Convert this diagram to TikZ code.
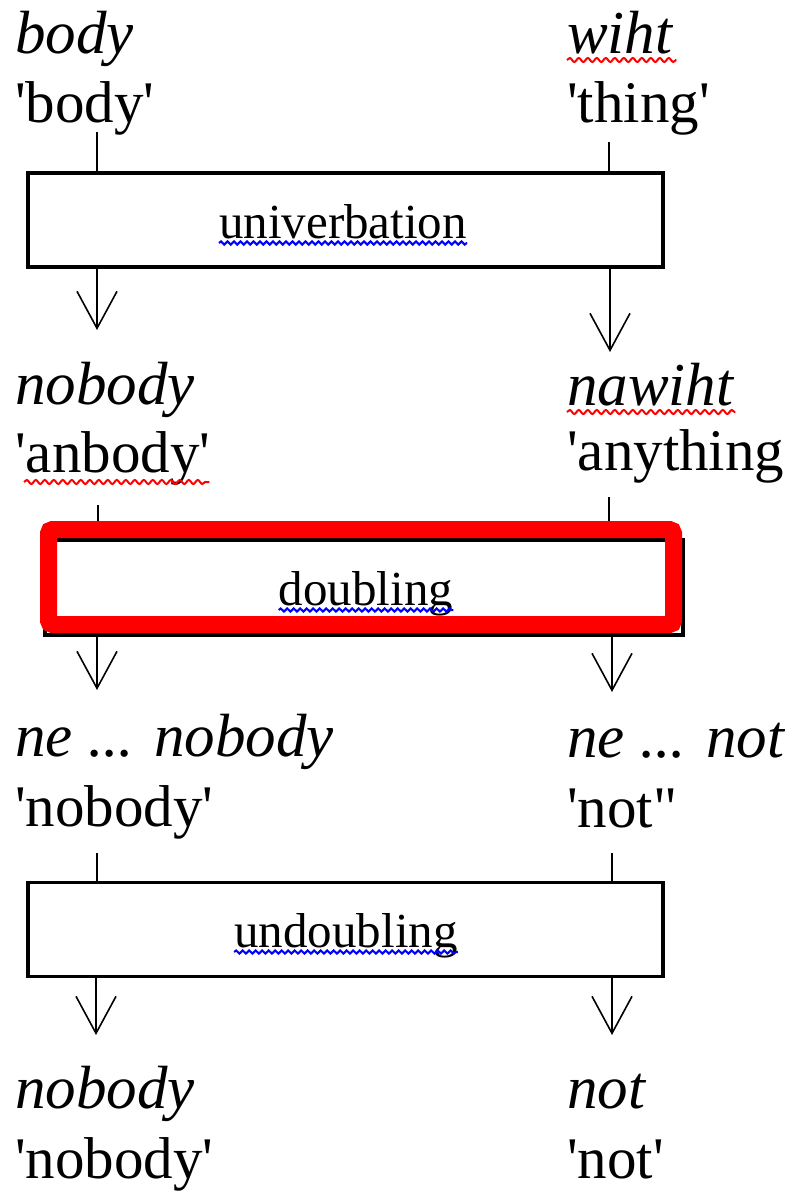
\documentclass[tikz,border=0pt]{standalone}
\usepackage{fontspec}
\newfontfamily\tnr{Liberation Serif}[ItalicFont={Liberation Serif Italic}, BoldFont={Liberation Serif Bold}]
\usetikzlibrary{arrows.meta,decorations.pathmorphing}
\begin{document}
\begin{tikzpicture}[x=1pt,y=-1pt,
  lbl/.style={inner sep=0pt, anchor=base west, font=\tnr\fontsize{59pt}{67pt}\selectfont},
  ilbl/.style={inner sep=0pt, anchor=base west, font=\tnr\itshape\fontsize{61pt}{67pt}\selectfont},
  boxtext/.style={inner sep=0pt, anchor=base, font=\tnr\fontsize{49pt}{58pt}\selectfont},
  procbox/.style={draw, line width=3.5pt, minimum width=635pt, minimum height=94pt, inner sep=0pt},
  redbox/.style={draw=red, line width=17pt, rounded corners=4pt, minimum width=625pt, minimum height=95pt, inner sep=0pt},
  conn/.style={line width=1.6pt},
  arr/.style={conn, -{Straight Barb[length=37pt,width=40pt]}},
  redwave/.style={draw=red, line width=2pt, decorate, decoration={snake, segment length=9pt, amplitude=2pt}},
  bluewave/.style={draw=blue, line width=2pt, decorate, decoration={snake, segment length=6.5pt, amplitude=1.6pt}}
]
\useasboundingbox (0,0) rectangle (797,1191);

% labels
\node[ilbl] (l1a) at (15,53) {body};
\node[lbl] (l1b) at (15,122) {'body'};
\node[ilbl] (r1a) at (567,53) {wiht};
\node[lbl] (r1b) at (567,122) {'thing'};
\node[ilbl] (l2a) at (15,404) {nobody};
\node[lbl] (l2b) at (15,472) {'anbody'};
\node[ilbl] (r2a) at (567,405) {nawiht};
\node[lbl] (r2b) at (567,470) {'anything};
\node[ilbl] (l3a) at (15,756) {ne ... nobody};
\node[lbl] (l3b) at (15,826) {'nobody'};
\node[ilbl] (r3a) at (567,757) {ne ... not};
\node[lbl] (r3b) at (567,827) {'not"};
\node[ilbl] (l4a) at (15,1108) {nobody};
\node[lbl] (l4b) at (15,1178) {'nobody'};
\node[ilbl] (r4a) at (567,1108) {not};
\node[lbl] (r4b) at (567,1178) {'not'};

% boxes
\node[procbox] (b1) at (345.5,220) {};
\node[procbox, minimum width=638pt, minimum height=95pt] (b2) at (364,587.5) {};
\node[procbox] (b3) at (345.5,929.5) {};

% connector points
\coordinate (s1L) at (97,132);
\coordinate (s1R) at (609,142);
\coordinate (e1L) at (97,330);
\coordinate (e1R) at (610,352);
\coordinate (s2L) at (98,505);
\coordinate (s2R) at (609,497);
\coordinate (e2L) at (97,690);
\coordinate (e2R) at (612,692);
\coordinate (s3L) at (97,853);
\coordinate (s3R) at (612,853);
\coordinate (e3L) at (96,1035);
\coordinate (e3R) at (612,1035);

\draw[conn] (s1L) -- (s1L |- b1.north);
\draw[conn] (s1R) -- (s1R |- b1.north);
\draw[arr] (b1.south -| e1L) -- (e1L);
\draw[arr] (b1.south -| e1R) -- (e1R);

\draw[conn] (s2L) -- (s2L |- b2.north);
\draw[conn] (s2R) -- (s2R |- b2.north);
\draw[arr] (b2.south -| e2L) -- (e2L);
\draw[arr] (b2.south -| e2R) -- (e2R);

\draw[conn] (s3L) -- (s3L |- b3.north);
\draw[conn] (s3R) -- (s3R |- b3.north);
\draw[arr] (b3.south -| e3L) -- (e3L);
\draw[arr] (b3.south -| e3R) -- (e3R);

% highlight
\node[redbox] (hl) at (361,577) {};

% box texts
\node[boxtext] (t1) at (343,238) {univerbation};
\node[boxtext] (t2) at (366,605) {doubling};
\node[boxtext] (t3) at (346,947) {undoubling};

% spell-check underlines
\draw[bluewave] ([yshift=-5pt]t1.base west) -- ([yshift=-5pt]t1.base east);
\draw[bluewave] ([yshift=-5pt]t2.base west) -- ([yshift=-5pt]t2.base east);
\draw[bluewave] ([yshift=-5pt]t3.base west) -- ([yshift=-5pt]t3.base east);
\draw[redwave] ([yshift=-7pt]r1a.base west) -- ([xshift=4pt,yshift=-7pt]r1a.base east);
\draw[redwave] ([yshift=-7pt]r2a.base west) -- ([xshift=2pt,yshift=-7pt]r2a.base east);
\draw[redwave] ([xshift=9pt,yshift=-10pt]l2b.base west) -- ([xshift=-1pt,yshift=-10pt]l2b.base east);
\end{tikzpicture}
\end{document}
